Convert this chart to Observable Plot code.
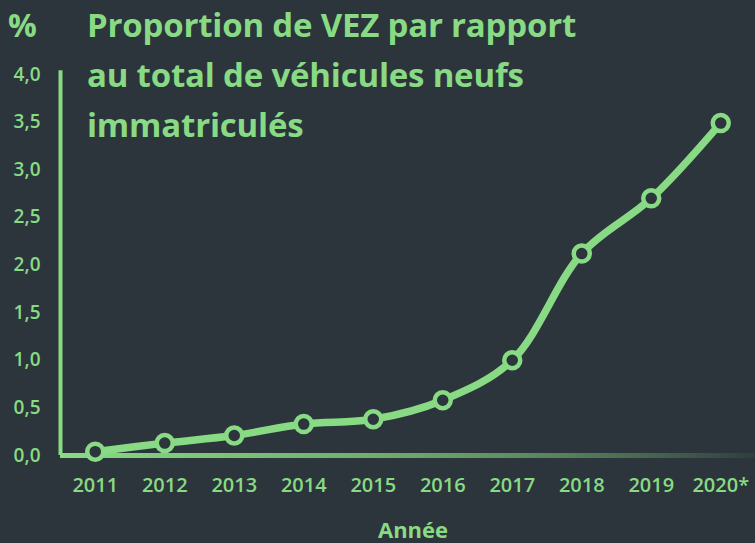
<!DOCTYPE html>
<html>
<head>
<meta charset="utf-8">
<script src="https://cdn.jsdelivr.net/npm/d3@7"></script>
<script src="https://cdn.jsdelivr.net/npm/@observablehq/plot@0.6"></script>
<style>
  html, body { margin: 0; padding: 0; background: #2c353b; }
  #wrap { position: relative; width: 755px; height: 543px; overflow: hidden; font-family: "Open Sans", sans-serif; }
  #title { position: absolute; left: 87px; top: 0px; color: #88da84; font-weight: 700; font-size: 33px; line-height: 50px; letter-spacing: -0.2px; }
  #pct { position: absolute; left: 8px; top: 3px; color: #88da84; font-weight: 700; font-size: 32px; line-height: 44px; }
</style>
</head>
<body>
<div id="wrap">
  <div id="chart"></div>
  <div id="pct">%</div>
  <div id="title">Proportion de VEZ par rapport<br>au total de véhicules neufs<br>immatriculés</div>
</div>
<script>
const years = [2011, 2012, 2013, 2014, 2015, 2016, 2017, 2018, 2019, 2020];
const yearLabels = ["2011", "2012", "2013", "2014", "2015", "2016", "2017", "2018", "2019", "2020*"];
const values = [0.04, 0.13, 0.21, 0.33, 0.38, 0.58, 1.0, 2.12, 2.70, 3.49];
const yTicks = [0, 0.5, 1, 1.5, 2, 2.5, 3, 3.5, 4];
const yTickLabels = ["0,0", "0,5", "1,0", "1,5", "2,0", "2,5", "3,0", "3,5", "4,0"];
const xLabel = "Année";

const green = "#88da84";
const bg = "#2c353b";
const data = years.map((y, i) => ({year: y, value: values[i]}));

const plot = Plot.plot({
  width: 755,
  height: 543,
  marginLeft: 60,
  marginRight: 0,
  marginTop: 74,
  marginBottom: 88,
  style: {background: bg, color: green, fontFamily: "'Open Sans', sans-serif", fontWeight: 600, fontSize: "19px", overflow: "visible"},
  x: {type: "linear", domain: [2010.5, 2020.5]},
  y: {domain: [0, 4]},
  marks: [
    Plot.axisY({ticks: yTicks, tickFormat: (d) => yTickLabels[yTicks.indexOf(d)], tickSize: 0, tickPadding: 20, label: null, fontSize: 19}),
    Plot.axisX({ticks: years, tickFormat: (d) => yearLabels[years.indexOf(d)], tickSize: 0, tickPadding: 22, label: null, fontSize: 20}),
    Plot.ruleY([0], {x1: 2010.5, x2: 2020.5, stroke: "url(#baseGrad)", strokeWidth: 5}),
    Plot.ruleX([2010.5], {y1: 0, y2: 4.04, stroke: green, strokeWidth: 4, strokeLinecap: "butt"}),
    Plot.line(data, {x: "year", y: "value", stroke: green, strokeWidth: 7.5, curve: "catmull-rom", style: "filter: drop-shadow(2px 3px 3px rgba(0,0,0,0.45))"}),
    Plot.dot(data, {x: "year", y: "value", r: 8, fill: bg, stroke: green, strokeWidth: 4.5}),
    Plot.text([xLabel], {frameAnchor: "bottom", dy: 82, dx: 5, text: (d) => d, fontSize: 22, fontWeight: 700, fill: green})
  ]
});

// gradient for the baseline, positioned through the x scale
const xs = plot.scale("x");
const svg = d3.select(plot);
const defs = svg.insert("defs", ":first-child");
const g = defs.append("linearGradient").attr("id", "baseGrad").attr("gradientUnits", "userSpaceOnUse")
  .attr("x1", xs.apply(2010.5)).attr("x2", xs.apply(2020.5)).attr("y1", 0).attr("y2", 0);
g.append("stop").attr("offset", "0%").attr("stop-color", green).attr("stop-opacity", 1);
g.append("stop").attr("offset", "45%").attr("stop-color", "#6fae6d").attr("stop-opacity", 1);
g.append("stop").attr("offset", "100%").attr("stop-color", green).attr("stop-opacity", 0.05);
document.getElementById("chart").appendChild(plot);
</script>
</body>
</html>
